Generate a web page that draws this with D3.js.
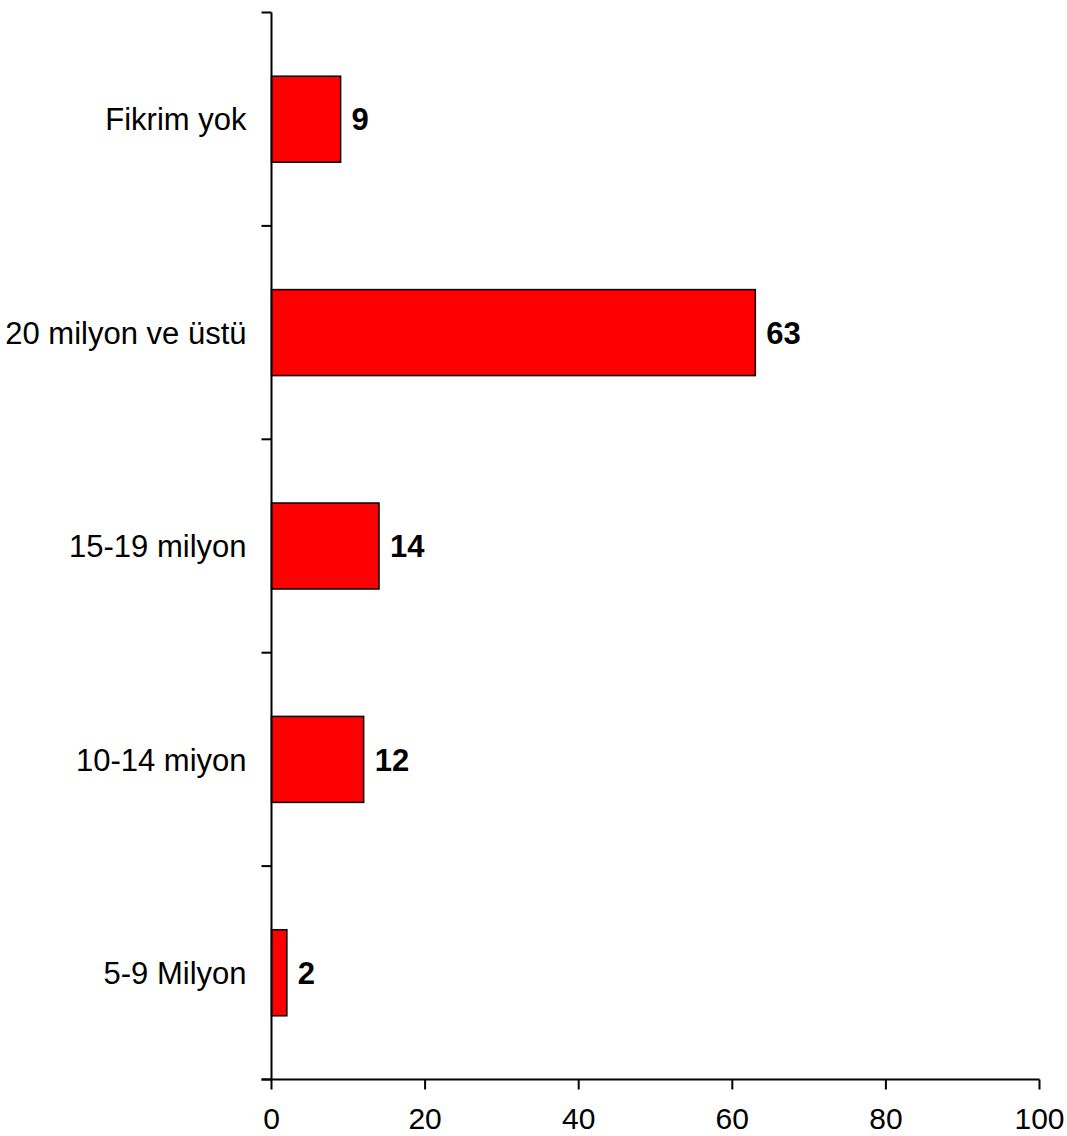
<!DOCTYPE html>
<html><head><meta charset="utf-8">
<script src="https://cdn.jsdelivr.net/npm/d3@7"></script>
<style>body{margin:0;background:#fff}svg{display:block}</style>
</head><body>
<script>
const categories = ["Fikrim yok", "20 milyon ve üstü", "15-19 milyon", "10-14 miyon", "5-9 Milyon"];
const values = [9, 63, 14, 12, 2];
const xTicks = [0, 20, 40, 60, 80, 100];

const W = 1067, H = 1136;
const x0 = 271.5, x1 = 1039.5, yTop = 12.5, yBot = 1079.5;
const svg = d3.select("body").append("svg").attr("width", W).attr("height", H);
const x = d3.scaleLinear().domain([0, 100]).range([x0, x1]);
const y = d3.scaleBand().domain(categories).range([yTop, yBot]).padding(0);
const barFrac = 0.403;
const FONT = "Liberation Sans, Arial, sans-serif";

// bars
svg.selectAll("rect.bar").data(categories).join("rect")
  .attr("x", x(0))
  .attr("y", (d) => y(d) + y.bandwidth() * (1 - barFrac) / 2)
  .attr("width", (d, i) => x(values[i]) - x(0))
  .attr("height", y.bandwidth() * barFrac)
  .attr("fill", "#ff0000").attr("stroke", "#000").attr("stroke-width", 1.5);

// value labels
svg.selectAll("text.val").data(categories).join("text")
  .attr("x", (d, i) => x(values[i]) + 11)
  .attr("y", (d) => y(d) + y.bandwidth() / 2)
  .attr("dy", "0.36em")
  .attr("font-family", FONT)
  .attr("font-size", 31).attr("font-weight", "bold")
  .text((d, i) => values[i]);

// category labels
svg.selectAll("text.cat").data(categories).join("text")
  .attr("x", x0 - 25)
  .attr("y", (d) => y(d) + y.bandwidth() / 2)
  .attr("dy", "0.36em")
  .attr("text-anchor", "end")
  .attr("font-family", FONT)
  .attr("font-size", 31)
  .text((d) => d);

// y axis line and ticks at band boundaries
const yBounds = categories.map((d) => y(d)).concat([yBot]);
svg.append("line").attr("x1", x0).attr("x2", x0).attr("y1", yTop).attr("y2", yBot)
  .attr("stroke", "#000").attr("stroke-width", 2);
svg.selectAll("line.yt").data(yBounds).join("line")
  .attr("x1", x0 - 10).attr("x2", x0).attr("y1", (d) => d).attr("y2", (d) => d)
  .attr("stroke", "#000").attr("stroke-width", 2);

// x axis
svg.append("line").attr("x1", x0 - 10).attr("x2", x1).attr("y1", yBot).attr("y2", yBot)
  .attr("stroke", "#000").attr("stroke-width", 2);
svg.selectAll("line.xt").data(xTicks).join("line")
  .attr("x1", (d) => x(d)).attr("x2", (d) => x(d)).attr("y1", yBot).attr("y2", yBot + 10)
  .attr("stroke", "#000").attr("stroke-width", 2);
svg.selectAll("text.xl").data(xTicks).join("text")
  .attr("x", (d) => x(d)).attr("y", 1129)
  .attr("text-anchor", "middle")
  .attr("font-family", FONT)
  .attr("font-size", 30)
  .text((d) => d);
</script>
</body></html>
